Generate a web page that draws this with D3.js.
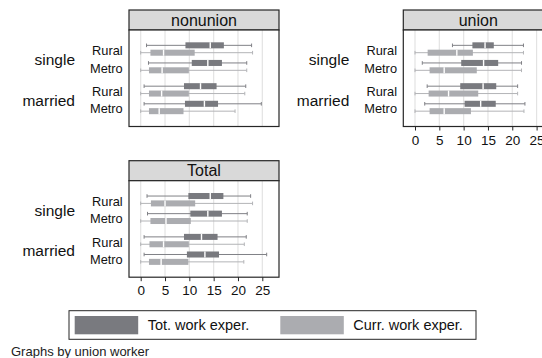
<!DOCTYPE html>
<html>
<head>
<meta charset="utf-8">
<script src="https://cdn.jsdelivr.net/npm/d3@7"></script>
<style>
  body { margin: 0; background: #fff; }
  svg { display: block; font-family: "Liberation Sans", Arial, sans-serif; }
</style>
</head>
<body>
<svg id="chart" width="542" height="358"></svg>
<script>
// Data: [lower whisker, q1, median, q3, upper whisker] per row
// rows: single/Rural, single/Metro, married/Rural, married/Metro
const panelNames = ["nonunion", "union", "Total"];
const maritalGroups = ["single", "married"];
const areas = ["Rural", "Metro"];
const seriesNames = ["Tot. work exper.", "Curr. work exper."];
const xTicks = [0, 5, 10, 15, 20, 25];

const nonunionTot = [[1.2, 9.2, 14.3, 17.1, 22.8], [1.6, 10.5, 13.8, 16.7, 21.8], [0.7, 8.9, 12.3, 15.6, 21.6], [0.7, 9.1, 13.1, 15.9, 24.8]];
const nonunionCurr = [[0, 2.0, 4.7, 11.1, 23.0], [0, 1.7, 4.4, 9.9, 21.8], [0, 1.7, 4.3, 9.9, 21.4], [0, 1.7, 3.8, 8.8, 19.4]];
const unionTot = [[7.7, 11.8, 14.4, 16.2, 22.3], [1.5, 9.5, 14.1, 17.1, 21.9], [2.5, 9.3, 14.0, 16.7, 21.1], [2.0, 10.2, 13.5, 16.6, 22.6]];
const unionCurr = [[0, 2.6, 8.6, 11.9, 22.3], [0, 3.0, 6.0, 12.7, 21.9], [0, 2.8, 6.9, 13.0, 21.1], [0, 3.0, 6.0, 11.5, 22.4]];
const totalTot = [[1.3, 9.8, 14.3, 17.0, 22.6], [1.4, 10.2, 13.8, 16.7, 21.9], [0.7, 8.9, 12.5, 15.8, 21.7], [0.7, 9.5, 13.2, 16.1, 25.9]];
const totalCurr = [[0, 2.1, 5.0, 11.2, 23.0], [0, 2.0, 5.2, 10.3, 21.9], [0, 1.8, 4.7, 9.9, 21.3], [0, 1.7, 4.2, 9.8, 21.2]];

const panelData = {
  nonunion: [nonunionTot, nonunionCurr],
  union: [unionTot, unionCurr],
  Total: [totalTot, totalCurr]
};

// layout
const panelW = 150, headerH = 20, plotH = 96.5;
const panelPos = {
  nonunion: { x: 129, y: 10, axis: false },
  union: { x: 403.3, y: 10, axis: true },
  Total: { x: 129, y: 160.7, axis: true }
};
const boxColors = ["#797a7f", "#abacb0"];
const whiskerColors = ["#808186", "#b3b4b7"];
const frameColor = "#262626";

const svg = d3.select("#chart");

// shared scales
const x = d3.scaleLinear().domain([0, 25]).range([11.7, 133.3]);
const yGroup = d3.scaleBand().domain(maritalGroups).range([0, plotH]).paddingInner(0.362).paddingOuter(0.362);
const yArea = d3.scalePoint().domain(areas).range([0, yGroup.bandwidth()]).padding(0.24);
const ySeries = d3.scaleBand().domain([0, 1]).range([-7, 7]).paddingInner(0.1);

panelNames.forEach(name => {
  const p = panelPos[name];
  const g = svg.append("g").attr("transform", `translate(${p.x},${p.y})`);

  // header strip
  g.append("rect")
    .attr("x", 0).attr("y", 0)
    .attr("width", panelW).attr("height", headerH)
    .attr("fill", "#d9d9d9")
    .attr("stroke", frameColor).attr("stroke-width", 1.2);
  g.append("text")
    .attr("x", panelW / 2).attr("y", headerH / 2 + 5.5)
    .attr("text-anchor", "middle")
    .attr("font-size", "16px")
    .attr("fill", "#111")
    .text(name);

  const plot = g.append("g").attr("transform", `translate(0,${headerH})`);
  plot.append("rect")
    .attr("width", panelW).attr("height", plotH)
    .attr("fill", "#fff");

  // grid lines
  plot.selectAll(".grid")
    .data(xTicks)
    .enter().append("line")
    .attr("x1", d => x(d)).attr("x2", d => x(d))
    .attr("y1", 0).attr("y2", plotH)
    .attr("stroke", "#e3e3e3").attr("stroke-width", 1.2);

  const [tot, curr] = panelData[name];
  const rows = [];
  maritalGroups.forEach((grp, gi) => {
    areas.forEach((area, ai) => {
      const idx = gi * 2 + ai;
      [tot[idx], curr[idx]].forEach((v, si) => {
        rows.push({ grp, area, si, v });
      });
    });
  });
  const rowY = d => yGroup(d.grp) + yArea(d.area) + ySeries(d.si) + ySeries.bandwidth() / 2;
  const bh = ySeries.bandwidth() - 0.6;

  const boxes = plot.selectAll(".box").data(rows).enter().append("g");
  // whisker line
  boxes.append("line")
    .attr("x1", d => x(d.v[0])).attr("x2", d => x(d.v[4]))
    .attr("y1", rowY).attr("y2", rowY)
    .attr("stroke", d => whiskerColors[d.si]).attr("stroke-width", 1);
  // caps
  boxes.selectAll(".cap")
    .data(d => [d.v[0], d.v[4]].map(c => ({ c, d })))
    .enter().append("line")
    .attr("x1", e => x(e.c)).attr("x2", e => x(e.c))
    .attr("y1", e => rowY(e.d) - 1.8).attr("y2", e => rowY(e.d) + 1.8)
    .attr("stroke", e => whiskerColors[e.d.si]).attr("stroke-width", 1);
  // box
  boxes.append("rect")
    .attr("x", d => x(d.v[1]))
    .attr("width", d => x(d.v[3]) - x(d.v[1]))
    .attr("y", d => rowY(d) - bh / 2)
    .attr("height", bh)
    .attr("fill", d => boxColors[d.si]);
  // median
  boxes.append("line")
    .attr("x1", d => x(d.v[2])).attr("x2", d => x(d.v[2]))
    .attr("y1", d => rowY(d) - bh / 2).attr("y2", d => rowY(d) + bh / 2)
    .attr("stroke", "#fff").attr("stroke-width", 1.4);

  // frame around plot region
  plot.append("rect")
    .attr("width", panelW).attr("height", plotH)
    .attr("fill", "none")
    .attr("stroke", frameColor).attr("stroke-width", 1.2);

  // category labels
  maritalGroups.forEach(grp => {
    areas.forEach(area => {
      plot.append("text")
        .attr("x", -6.3)
        .attr("y", yGroup(grp) + yArea(area) + 6)
        .attr("text-anchor", "end")
        .attr("font-size", "12.8px")
        .attr("fill", "#111")
        .text(area);
    });
    plot.append("text")
      .attr("x", -54)
      .attr("y", yGroup(grp) + yGroup.bandwidth() / 2 + 7)
      .attr("text-anchor", "end")
      .attr("font-size", "15.5px")
      .attr("fill", "#111")
      .text(grp);
  });

  if (p.axis) {
    const ax = plot.append("g")
      .attr("transform", `translate(0,${plotH})`)
      .call(d3.axisBottom(x).tickValues(xTicks).tickSize(4).tickPadding(4.5).tickSizeOuter(0));
    ax.select(".domain").remove();
    ax.selectAll(".tick line").attr("stroke", frameColor).attr("stroke-width", 1);
    ax.selectAll(".tick text")
      .attr("font-size", "13.5px")
      .attr("font-family", "Liberation Sans, Arial, sans-serif")
      .attr("fill", "#111");
  }
});

// legend
const legend = svg.append("g");
legend.append("rect")
  .attr("x", 69).attr("y", 310.7)
  .attr("width", 407).attr("height", 28.6)
  .attr("fill", "#fff")
  .attr("stroke", frameColor).attr("stroke-width", 1);
const legendX = [74.7, 280.3];
seriesNames.forEach((s, i) => {
  legend.append("rect")
    .attr("x", legendX[i]).attr("y", 316)
    .attr("width", 63.5).attr("height", 18.3)
    .attr("fill", boxColors[i]);
  legend.append("text")
    .attr("x", legendX[i] + 73).attr("y", 330)
    .attr("font-size", "14.5px")
    .attr("fill", "#111")
    .text(s);
});

svg.append("text")
  .attr("x", 11).attr("y", 355.5)
  .attr("font-size", "13px")
  .attr("fill", "#222")
  .text("Graphs by union worker");
</script>
</body>
</html>
